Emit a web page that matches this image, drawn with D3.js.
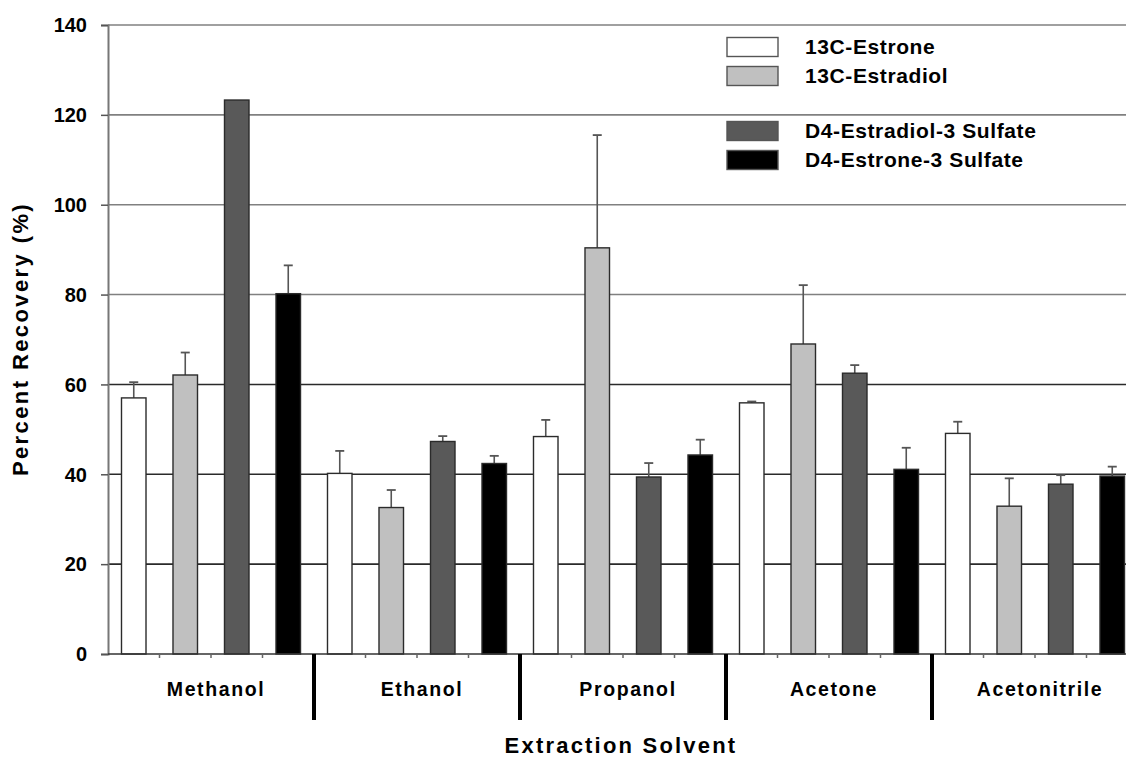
<!DOCTYPE html>
<html><head><meta charset="utf-8">
<script src="https://cdn.jsdelivr.net/npm/d3@7"></script>
<style>
html,body{margin:0;padding:0;background:#fff;overflow:hidden}
text{font-family:"Liberation Sans",Arial,sans-serif;font-weight:bold;fill:#000}
</style></head>
<body><svg id="c" width="1126" height="757"></svg>
<script>
const categories = ["Methanol","Ethanol","Propanol","Acetone","Acetonitrile"];
const seriesNames = ["13C-Estrone","13C-Estradiol","D4-Estradiol-3 Sulfate","D4-Estrone-3 Sulfate"];
const estrone      = [57.0, 40.2, 48.4, 55.9, 49.1];
const estroneErr   = [3.5, 5.0, 3.7, 0.3, 2.6];
const estradiol    = [62.1, 32.6, 90.4, 69.0, 32.9];
const estradiolErr = [5.0, 3.9, 25.1, 13.1, 6.2];
const e2Sulfate    = [123.3, 47.3, 39.4, 62.5, 37.8];
const e2SulfateErr = [0, 1.2, 3.1, 1.8, 2.0];
const e1Sulfate    = [80.2, 42.4, 44.3, 41.1, 39.6];
const e1SulfateErr = [6.3, 1.7, 3.4, 4.8, 2.1];
const yTicks = [0,20,40,60,80,100,120,140];
const colors = ["#ffffff","#c0c0c0","#595959","#000000"];

const seriesVals = [estrone, estradiol, e2Sulfate, e1Sulfate];
const seriesErrs = [estroneErr, estradiolErr, e2SulfateErr, e1SulfateErr];

const svg = d3.select("#c");
const pLeft = 108, pTop = 25, pBottom = 654, pRight = 1138;

const y = d3.scaleLinear().domain([0,140]).range([pBottom, pTop]);
const x0 = d3.scaleBand().domain(categories).range([pLeft, pRight]).padding(0);
const x1 = d3.scaleBand().domain(seriesNames).range([0, x0.bandwidth()]).paddingInner(0.524).paddingOuter(0.262);

// gridlines
svg.append("g").selectAll("line").data(yTicks.filter(d=>d>0)).join("line")
  .attr("x1", pLeft).attr("x2", 1126)
  .attr("y1", d=>y(d)).attr("y2", d=>y(d))
  .attr("stroke", d=> d>=80 ? "#808080" : "#2a2a2a").attr("stroke-width", 1.6);

// y axis
const yAxis = d3.axisLeft(y).tickValues(yTicks).tickSize(7).tickPadding(14);
const ga = svg.append("g").attr("transform", `translate(${pLeft},0)`).call(yAxis);
ga.select(".domain").attr("stroke", "#777").attr("stroke-width", 2);
ga.selectAll(".tick line").attr("stroke", "#555").attr("stroke-width", 1.5);
ga.selectAll(".tick text").style("font-size","20px").attr("fill","#000").attr("dy","0.34em");

// bars
const data = [];
categories.forEach((c,i)=>seriesNames.forEach((s,j)=>data.push({c, s, j, v: seriesVals[j][i], e: seriesErrs[j][i]})));

const eb = svg.append("g").selectAll("g").data(data.filter(d=>d.e>0)).join("g");
eb.append("line")
  .attr("x1", d=>x0(d.c)+x1(d.s)+x1.bandwidth()/2).attr("x2", d=>x0(d.c)+x1(d.s)+x1.bandwidth()/2)
  .attr("y1", d=>y(d.v)).attr("y2", d=>y(d.v+d.e))
  .attr("stroke","#555").attr("stroke-width",1.6);
eb.append("line")
  .attr("x1", d=>x0(d.c)+x1(d.s)+x1.bandwidth()/2-4.5).attr("x2", d=>x0(d.c)+x1(d.s)+x1.bandwidth()/2+4.5)
  .attr("y1", d=>y(d.v+d.e)).attr("y2", d=>y(d.v+d.e))
  .attr("stroke","#555").attr("stroke-width",1.8);

svg.append("g").selectAll("rect").data(data).join("rect")
  .attr("x", d=>x0(d.c)+x1(d.s)).attr("width", x1.bandwidth())
  .attr("y", d=>y(d.v)).attr("height", d=>y(0)-y(d.v))
  .attr("fill", d=>colors[d.j]).attr("stroke","#2b2b2b").attr("stroke-width",1.4);

// x axis line
svg.append("line").attr("x1",pLeft).attr("x2",1126).attr("y1",pBottom).attr("y2",pBottom)
  .attr("stroke","#333").attr("stroke-width",1.6);

// minor ticks inside groups
const minor = [];
categories.forEach(c=>seriesNames.slice(1).forEach(s=>minor.push(x0(c)+x1(s)-x1.step()*x1.paddingInner()/2)));
svg.append("g").selectAll("line").data(minor).join("line")
  .attr("x1",d=>d).attr("x2",d=>d).attr("y1",pBottom).attr("y2",pBottom+4)
  .attr("stroke","#666").attr("stroke-width",1.5);

// group separators
svg.append("g").selectAll("line").data(categories.slice(1)).join("line")
  .attr("x1",d=>x0(d)).attr("x2",d=>x0(d)).attr("y1",pBottom).attr("y2",720)
  .attr("stroke","#000").attr("stroke-width",4);

// category labels
svg.append("g").selectAll("text").data(categories).join("text")
  .attr("x", d=>x0(d)+x0.bandwidth()/2+5).attr("y", 696)
  .attr("text-anchor","middle").style("font-size","19.5px").style("letter-spacing","1.6px")
  .text(d=>d);

// axis titles
svg.append("text").attr("x", 621).attr("y", 753).attr("text-anchor","middle")
  .style("font-size","22px").style("letter-spacing","2.2px").text("Extraction Solvent");
svg.append("text").attr("transform","translate(28,339) rotate(-90)").attr("text-anchor","middle")
  .style("font-size","22px").style("letter-spacing","2.4px").text("Percent Recovery (%)");

// legend
const legY = [47, 76, 131, 160];
const lg = svg.append("g").selectAll("g").data(seriesNames).join("g")
  .attr("transform",(d,i)=>`translate(727,${legY[i]})`);
lg.append("rect").attr("x",0).attr("y",-9.5).attr("width",51).attr("height",19)
  .attr("fill",(d,i)=>colors[i]).attr("stroke","#555").attr("stroke-width",1.4);
lg.append("text").attr("x",78).attr("y",0).attr("dy","0.35em")
  .style("font-size","21px").style("letter-spacing","0.6px").text(d=>d);
</script></body></html>
